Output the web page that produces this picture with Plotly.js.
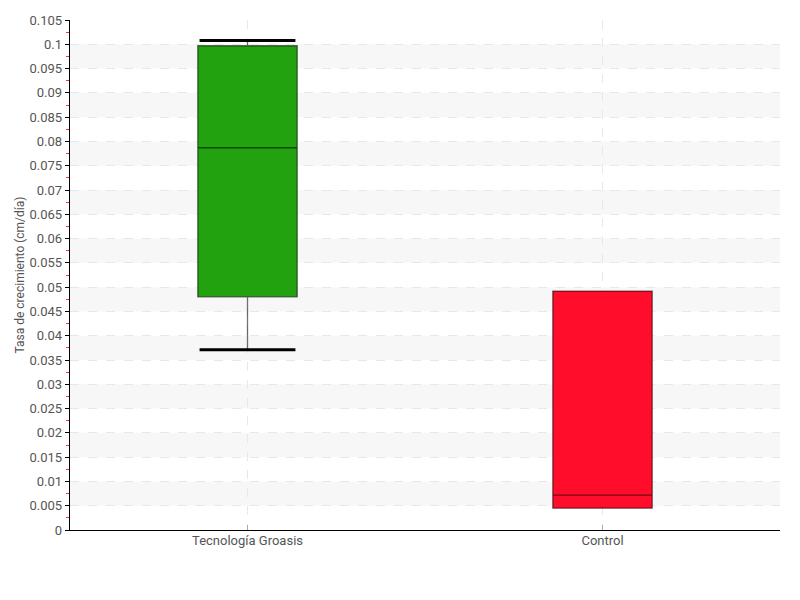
<!DOCTYPE html>
<html><head><meta charset="utf-8">
<script src="https://cdn.plot.ly/plotly-3.0.1.min.js"></script>
<style>body{margin:0}#chart{width:800px;height:600px}</style>
</head><body><div id="chart"></div>
<script>
const categories = ['Tecnología Groasis', 'Control'];
const q1 = [0.048, 0.0045];
const median = [0.0787, 0.0072];
const q3 = [0.0997, 0.0492];
const lowerFence = [0.0371, 0.0045];
const upperFence = [0.1008, 0.0492];
const fillColors = ['#21a20e', '#ff0d2a'];
const yTickStep = 0.005;
const yMax = 0.105;

const FONT = 'Roboto, "Liberation Sans Narrow", sans-serif';
const boxWidth = 0.28;
const capHalf = 0.135;

const traces = [];
categories.forEach((c, i) => {
  traces.push({
    type: 'box', x: [i], q1: [q1[i]], median: [median[i]], q3: [q3[i]],
    lowerfence: [lowerFence[i]], upperfence: [upperFence[i]],
    width: boxWidth, whiskerwidth: 0, fillcolor: fillColors[i],
    line: {color: 'rgba(0,0,0,0.55)', width: 1.3}, name: c, hoverinfo: 'skip'
  });
});
categories.forEach((c, i) => {
  [lowerFence[i] < q1[i] ? lowerFence[i] : null, upperFence[i] > q3[i] ? upperFence[i] : null].forEach(v => {
    if (v === null) return;
    traces.push({type: 'scatter', mode: 'lines', x: [i - capHalf, i + capHalf], y: [v, v],
      line: {color: '#000', width: 3}, hoverinfo: 'skip', showlegend: false});
  });
});

const shapes = [];
for (let k = 0; yTickStep * (2 * k + 2) <= yMax + 1e-9; k++) {
  shapes.push({type: 'rect', xref: 'paper', yref: 'y', x0: 0, x1: 1,
    y0: yTickStep * (2 * k + 1), y1: yTickStep * (2 * k + 2),
    fillcolor: '#f7f7f7', line: {width: 0}, layer: 'below'});
}

const layout = {
  width: 800, height: 600,
  margin: {l: 70, r: 20, t: 20, b: 70},
  paper_bgcolor: '#fff', plot_bgcolor: '#fff',
  showlegend: false,
  font: {family: FONT, size: 13, color: '#555'},
  shapes: shapes,
  xaxis: {
    range: [-0.5, 1.5], tickvals: categories.map((c, i) => i), ticktext: categories,
    showline: true, linecolor: '#000', linewidth: 1.3, mirror: false,
    ticks: 'inside', ticklen: 5, tickcolor: '#aaa', tickwidth: 1.5,
    ticklabelstandoff: -2,
    showgrid: true, gridcolor: '#e8e8e8', griddash: 'dash', gridwidth: 1,
    zeroline: false, tickfont: {family: FONT, size: 13, color: '#555'}
  },
  yaxis: {
    range: [0, yMax], dtick: yTickStep, tick0: 0,
    showline: true, linecolor: '#000', linewidth: 1.3,
    ticks: 'outside', ticklen: 4, tickcolor: '#000', tickwidth: 1,
    showgrid: true, gridcolor: '#e8e8e8', griddash: 'dash', gridwidth: 1,
    zeroline: false,
    minor: {dtick: yTickStep / 2, tick0: yTickStep / 2, ticks: 'outside', ticklen: 3, tickcolor: '#ff3030', tickwidth: 1, showgrid: false},
    tickfont: {family: FONT, size: 13, color: '#555'},
    title: {text: 'Tasa de crecimiento (cm/día)', font: {family: FONT, size: 12, color: '#555'}, standoff: 2}
  }
};

Plotly.newPlot('chart', traces, layout, {displayModeBar: false, staticPlot: true});
</script></body></html>
